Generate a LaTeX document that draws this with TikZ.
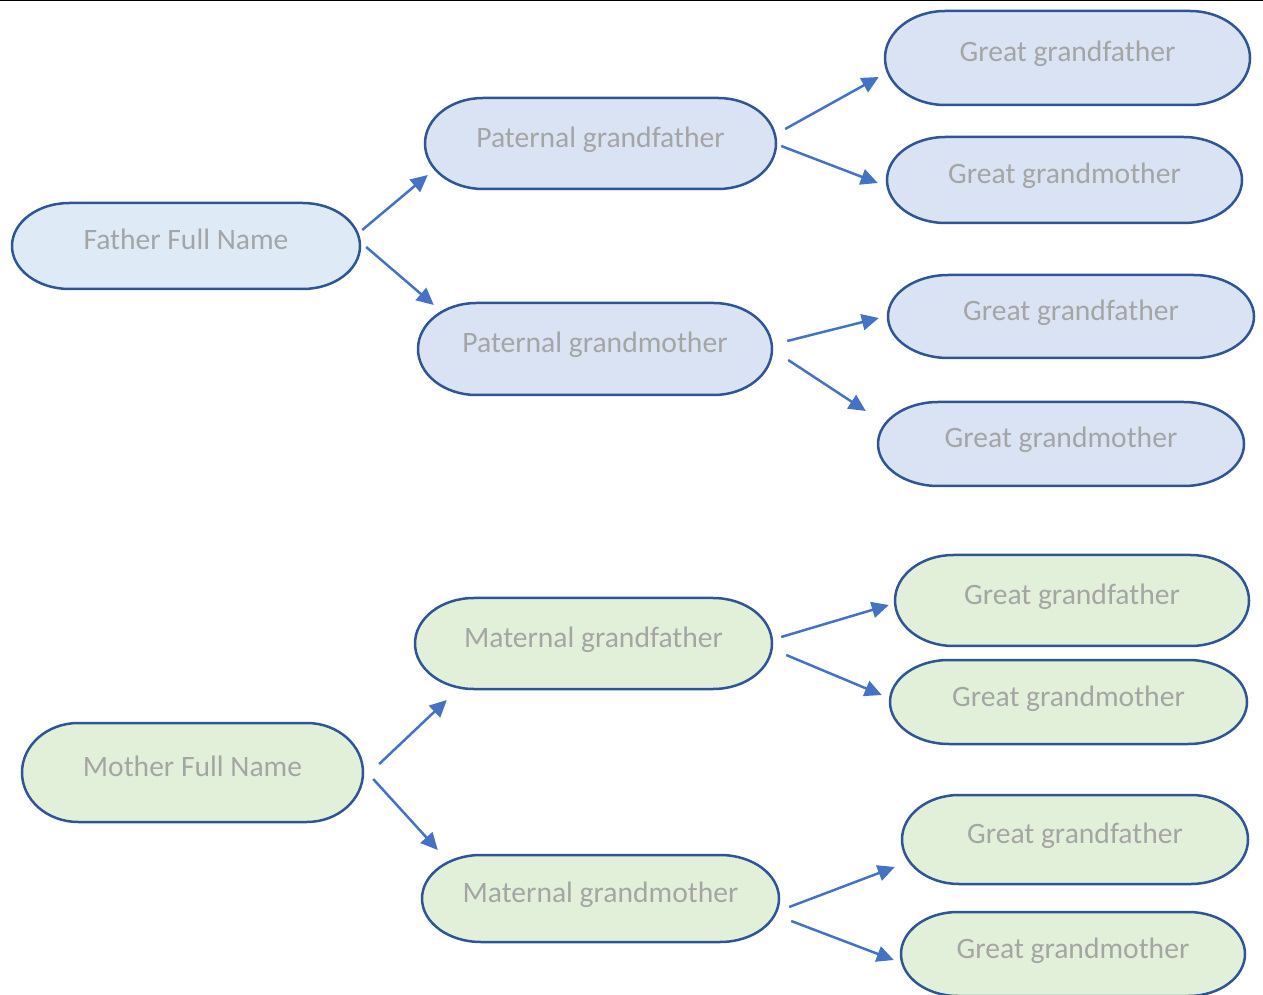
\documentclass[tikz,border=0pt]{standalone}
\usepackage{fontspec}
\setmainfont{Carlito}
\usetikzlibrary{arrows.meta,calc}
\definecolor{boxline}{HTML}{2F5597}
\definecolor{fillF}{HTML}{DEEBF7}
\definecolor{fillB}{HTML}{DAE3F3}
\definecolor{fillG}{HTML}{E2F0D9}
\definecolor{arrowc}{HTML}{4472C4}
\definecolor{txtc}{HTML}{A5A5A5}
\newcommand\tbox[7]{%
  \pgfmathsetmacro\rx{0.165*#4}%
  \filldraw[line width=2.5pt, draw=boxline, fill=#6]
    ({#2-#4/2+\rx},{#3-#5/2}) -- ({#2+#4/2-\rx},{#3-#5/2})
    arc[start angle=-90, end angle=90, x radius=\rx, y radius=#5/2]
    -- ({#2-#4/2+\rx},{#3+#5/2})
    arc[start angle=90, end angle=270, x radius=\rx, y radius=#5/2] -- cycle;
  \node[boxtext, minimum width=#4, minimum height=#5] (#1) at (#2,#3) {#7};
}
\tikzset{
  boxtext/.style={inner sep=0pt, text=txtc, font=\fontsize{29.6}{34}\selectfont,
    text height=21pt, text depth=13pt},
  arr/.style={draw=arrowc, line width=2.5pt, -{Triangle[length=17pt,width=16pt]}}
}
\begin{document}
\begin{tikzpicture}[x=1pt,y=1pt]
\useasboundingbox (0,0) rectangle (1263,994);
\draw[black, line width=2pt] (0,993.5) -- (1263,993.5);
% paternal side
\tbox{father}{186}{748}{348}{86}{fillF}{Father Full Name}
\tbox{pgf}{600.5}{850.5}{351}{91}{fillB}{Paternal grandfather}
\tbox{pgm}{595}{645}{354}{92}{fillB}{Paternal grandmother}
\tbox{ggfa}{1067.5}{936}{365}{94}{fillB}{Great grandfather}
\tbox{ggma}{1064.5}{814}{355}{86}{fillB}{Great grandmother}
\tbox{ggfb}{1071}{677.5}{366}{83}{fillB}{Great grandfather}
\tbox{ggmb}{1061}{550}{366}{84}{fillB}{Great grandmother}
% maternal side
\tbox{mother}{192.5}{221.5}{341}{99}{fillG}{Mother Full Name}
\tbox{mgf}{593.5}{350.5}{357}{91}{fillG}{Maternal grandfather}
\tbox{mgm}{600.5}{95.5}{357}{87}{fillG}{Maternal grandmother}
\tbox{ggfc}{1072}{393.5}{354}{91}{fillG}{Great grandfather}
\tbox{ggmc}{1068.5}{292}{357}{84}{fillG}{Great grandmother}
\tbox{ggfd}{1075}{154.5}{346}{89}{fillG}{Great grandfather}
\tbox{ggmd}{1073}{40}{344}{84}{fillG}{Great grandmother}
% arrows
\draw[arr] ($(father.east)+(2,16)$) -- ($(pgf.west)+(3,-31.5)$);
\draw[arr] ($(father.east)+(6,-1)$) -- ($(pgm.west)+(16,44)$);
\draw[arr] ($(pgf.east)+(9,14.5)$) -- ($(ggfa.west)+(-6,-19)$);
\draw[arr] ($(pgf.east)+(5,-2.5)$) -- ($(ggma.west)+(-9,-3)$);
\draw[arr] ($(pgm.east)+(15,8)$) -- ($(ggfb.west)+(-9,-1.5)$);
\draw[arr] ($(pgm.east)+(16,-11)$) -- ($(ggmb.west)+(-12,33)$);
\draw[arr] ($(mgf.east)+(9,6.5)$) -- ($(ggfc.west)+(-6,-4.5)$);
\draw[arr] ($(mgf.east)+(14,-11.5)$) -- ($(ggmc.west)+(-8,7)$);
\draw[arr] ($(mother.east)+(16,8.5)$) -- ($(mgf.west)+(32,-56.5)$);
\draw[arr] ($(mother.east)+(10,-6.5)$) -- ($(mgm.west)+(16,48.5)$);
\draw[arr] ($(mgm.east)+(10,-8.5)$) -- ($(ggfd.west)+(-7,-27.5)$);
\draw[arr] ($(mgm.east)+(12,-22.5)$) -- ($(ggmd.west)+(-7,-6)$);
\end{tikzpicture}
\end{document}
